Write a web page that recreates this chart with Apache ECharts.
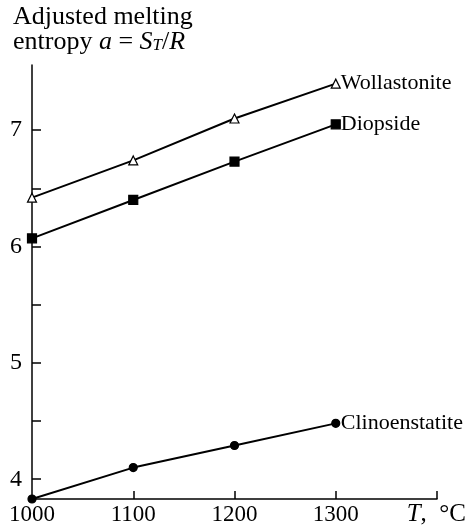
<!DOCTYPE html>
<html>
<head>
<meta charset="utf-8">
<script src="https://cdn.jsdelivr.net/npm/echarts@6/dist/echarts.min.js"></script>
<style>
  html, body { margin: 0; padding: 0; background: #fff; }
  #chart { width: 468px; height: 531px; }
</style>
</head>
<body>
<div id="chart"></div>
<script>
var temps = [1000, 1100, 1200, 1300];
var wollastonite = [6.42, 6.74, 7.10, 7.40];
var diopside = [6.07, 6.40, 6.73, 7.05];
var clinoenstatite = [3.83, 4.10, 4.29, 4.48];
var yTicks = [4, 4.5, 5, 5.5, 6, 6.5, 7];
var yLabels = [4, 5, 6, 7];
var xTicks = [1100, 1200, 1300, 1400];
var xLabels = [1000, 1100, 1200, 1300];

function pairs(ys) {
  return temps.map(function (t, i) { return [t, ys[i]]; });
}

var serif = 'Liberation Serif';
var lineStyle = { color: '#000', width: 2 };

function makeSeries(name, ys, symbol, size, fill) {
  return {
    name: name,
    type: 'line',
    data: pairs(ys),
    symbol: symbol,
    symbolSize: size,
    showAllSymbol: true,
    clip: false,
    lineStyle: lineStyle,
    itemStyle: { color: fill, borderColor: '#000', borderWidth: 1.2 },
    endLabel: {
      show: true,
      formatter: '{a}',
      distance: 5,
      fontFamily: serif,
      fontSize: 22,
      color: '#000'
    },
    animation: false
  };
}

var myChart = echarts.init(document.getElementById('chart'));
var option = {
  backgroundColor: '#fff',
  grid: { left: 32, right: 31, top: 65, bottom: 32 },
  xAxis: {
    type: 'value',
    min: 1000,
    max: 1400,
    axisLine: { lineStyle: { color: '#000', width: 1.5 } },
    axisTick: { inside: true, length: 8, customValues: xTicks, lineStyle: { color: '#000', width: 1.5 } },
    axisLabel: {
      customValues: xLabels,
      formatter: function (v) { return String(v); },
      color: '#000', fontFamily: serif, fontSize: 23, margin: 4
    },
    splitLine: { show: false }
  },
  yAxis: {
    type: 'value',
    min: 3.83,
    max: 7.56,
    axisLine: { show: true, lineStyle: { color: '#000', width: 1.5 } },
    axisTick: { show: true, inside: true, length: 9, customValues: yTicks, lineStyle: { color: '#000', width: 1.5 } },
    axisLabel: { customValues: yLabels, color: '#000', fontFamily: serif, fontSize: 24, margin: 10 },
    splitLine: { show: false }
  },
  graphic: [
    {
      type: 'text',
      left: 13,
      top: 4,
      style: {
        text: 'Adjusted melting\nentropy {i|a} = {i|S}{sub|T}/{i|R}',
        fontFamily: serif,
        fontSize: 26,
        lineHeight: 25,
        fill: '#000',
        rich: {
          i: { fontFamily: serif, fontSize: 26, fontStyle: 'italic', lineHeight: 25 },
          sub: { fontFamily: serif, fontSize: 17, fontStyle: 'italic', verticalAlign: 'bottom', lineHeight: 20 }
        }
      }
    },
    {
      type: 'text',
      right: 2,
      top: 502,
      style: {
        text: '{i|T},  °C',
        fontFamily: serif,
        fontSize: 25,
        fill: '#000',
        rich: { i: { fontFamily: serif, fontSize: 25, fontStyle: 'italic' } }
      }
    }
  ],
  series: [
    makeSeries('Wollastonite', wollastonite, 'triangle', 9, '#fff'),
    makeSeries('Diopside', diopside, 'rect', 9, '#000'),
    makeSeries('Clinoenstatite', clinoenstatite, 'circle', 8, '#000')
  ]
};
myChart.setOption(option);
</script>
</body>
</html>
